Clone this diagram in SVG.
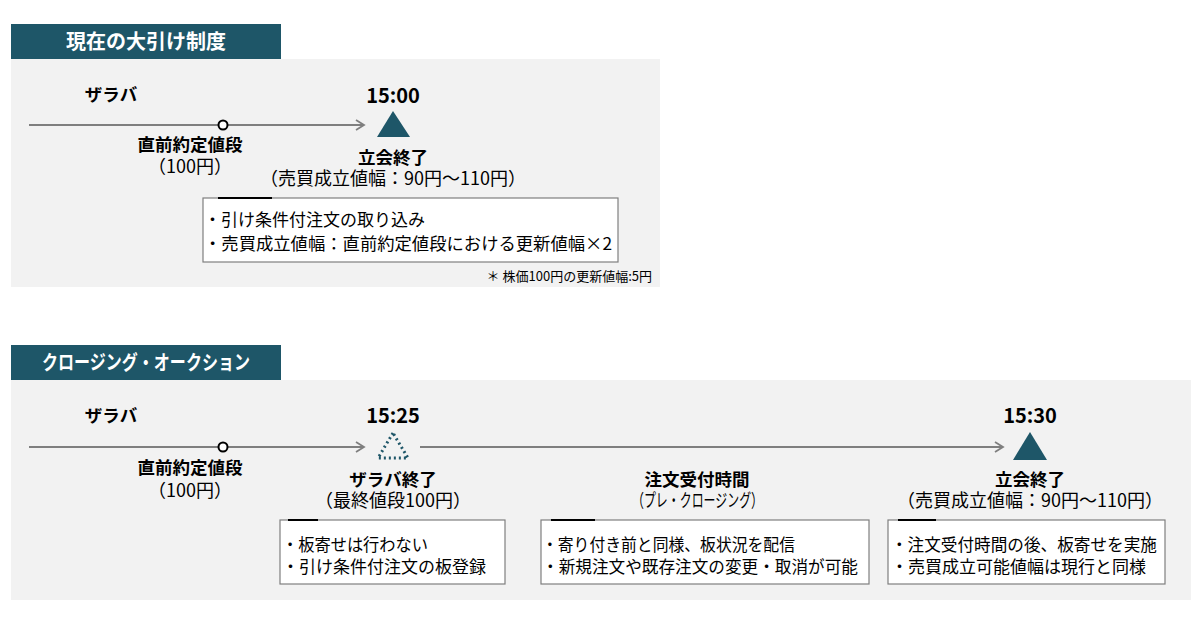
<svg xmlns="http://www.w3.org/2000/svg" width="1200" height="617" viewBox="0 0 1200 617">
<style>
text{font-family:"Noto Sans CJK JP","Noto Sans",sans-serif;fill:#000}
.hd{font-size:20px;font-weight:bold;fill:#fff}
.b{font-size:17.5px;font-weight:bold}
.p{font-size:18px}
.t{font-size:17px}
.c{text-anchor:middle}
.tm{font-size:20px;font-weight:bold}
.panel{fill:#f2f2f2}
.hbar{fill:#1e5668}
.tl{stroke:#7f7f7f;stroke-width:2;fill:none}
.box{fill:#fff;stroke:#7f7f7f;stroke-width:1.2}
.tick{stroke:#000;stroke-width:2}
.note{font-size:13px}
</style>
<defs>
<marker id="arr" markerWidth="14" markerHeight="14" refX="11" refY="7" orient="auto" markerUnits="userSpaceOnUse">
<path d="M3,2 L11,7 L3,12" fill="none" stroke="#7f7f7f" stroke-width="1.8"/>
</marker>
</defs>
<rect width="1200" height="617" fill="#fff"/>

<g id="section1">
<rect class="panel" x="11" y="59" width="649" height="228"/>
<rect class="hbar" x="11" y="24" width="270" height="35"/>
<text class="hd c" x="146" y="49">現在の大引け制度</text>
</g>

<g id="section2">
<rect class="panel" x="11" y="380" width="1180" height="220"/>
<rect class="hbar" x="11" y="345" width="270" height="35"/>
<text class="hd" x="42" y="370" textLength="208" lengthAdjust="spacingAndGlyphs">クロージング・オークション</text>
</g>

<g id="connectors">
<line class="tl" x1="29" y1="125" x2="364" y2="125" marker-end="url(#arr)"/>
<line class="tl" x1="29" y1="447" x2="364" y2="447" marker-end="url(#arr)"/>
<line class="tl" x1="420" y1="447" x2="1003" y2="447" marker-end="url(#arr)"/>
</g>

<g id="zaraba1">
<text class="b c" x="111" y="101">ザラバ</text>
</g>
<g id="last-price1">
<circle cx="223" cy="125" r="4.5" fill="#fff" stroke="#000" stroke-width="2"/>
<text class="b c" x="190" y="151">直前約定値段</text>
<text class="p c" x="190" y="173">（100円）</text>
</g>
<g id="close1">
<text class="tm c" x="393" y="103">15:00</text>
<polygon points="393,111 377,137 410,137" fill="#1e5668"/>
<text class="b c" x="393" y="164">立会終了</text>
<text class="p c" x="393" y="185">（売買成立値幅：90円～110円）</text>
</g>
<g id="box1">
<rect class="box" x="203" y="198" width="415" height="64"/>
<line class="tick" x1="218" y1="198" x2="272" y2="198"/>
<text class="t" x="204" y="226">・引け条件付注文の取り込み</text>
<text class="t" x="204" y="250" textLength="408" lengthAdjust="spacingAndGlyphs">・売買成立値幅：直前約定値段における更新値幅×2</text>
</g>
<g id="note1">
<text class="note" x="652" y="281" text-anchor="end">＊ 株価100円の更新値幅:5円</text>
</g>

<g id="zaraba2">
<text class="b c" x="111" y="422">ザラバ</text>
</g>
<g id="last-price2">
<circle cx="223" cy="447" r="4.5" fill="#fff" stroke="#000" stroke-width="2"/>
<text class="b c" x="190" y="474">直前約定値段</text>
<text class="p c" x="190" y="497">（100円）</text>
</g>
<g id="zaraba-end">
<text class="tm c" x="393" y="423">15:25</text>
<polygon points="393,433 378,458 408,458" fill="none" stroke="#1e5668" stroke-width="3" stroke-dasharray="2 3"/>
<text class="b c" x="393" y="486">ザラバ終了</text>
<text class="p c" x="393" y="507">（最終値段100円）</text>
</g>
<g id="box2">
<rect class="box" x="280" y="520" width="225" height="64"/>
<line class="tick" x1="288" y1="520" x2="318" y2="520"/>
<text class="t" x="282" y="551" textLength="146" lengthAdjust="spacingAndGlyphs">・板寄せは行わない</text>
<text class="t" x="282" y="573">・引け条件付注文の板登録</text>
</g>
<g id="pre-closing">
<text class="b c" x="697" y="486">注文受付時間</text>
<text class="p" x="632" y="507" textLength="131" lengthAdjust="spacingAndGlyphs">（プレ・クロージング）</text>
</g>
<g id="box3">
<rect class="box" x="541" y="520" width="328" height="64"/>
<line class="tick" x1="551" y1="520" x2="595" y2="520"/>
<text class="t" x="542" y="551" textLength="253" lengthAdjust="spacingAndGlyphs">・寄り付き前と同様、板状況を配信</text>
<text class="t" x="542" y="573" textLength="316" lengthAdjust="spacingAndGlyphs">・新規注文や既存注文の変更・取消が可能</text>
</g>
<g id="close2">
<text class="tm c" x="1030" y="423">15:30</text>
<polygon points="1030,432 1013,460 1047,460" fill="#1e5668"/>
<text class="b c" x="1030" y="486">立会終了</text>
<text class="p c" x="1030" y="507">（売買成立値幅：90円～110円）</text>
</g>
<g id="box4">
<rect class="box" x="888" y="520" width="277" height="64"/>
<line class="tick" x1="898" y1="520" x2="936" y2="520"/>
<text class="t" x="891" y="551" textLength="266" lengthAdjust="spacingAndGlyphs">・注文受付時間の後、板寄せを実施</text>
<text class="t" x="891" y="573">・売買成立可能値幅は現行と同様</text>
</g>
</svg>
